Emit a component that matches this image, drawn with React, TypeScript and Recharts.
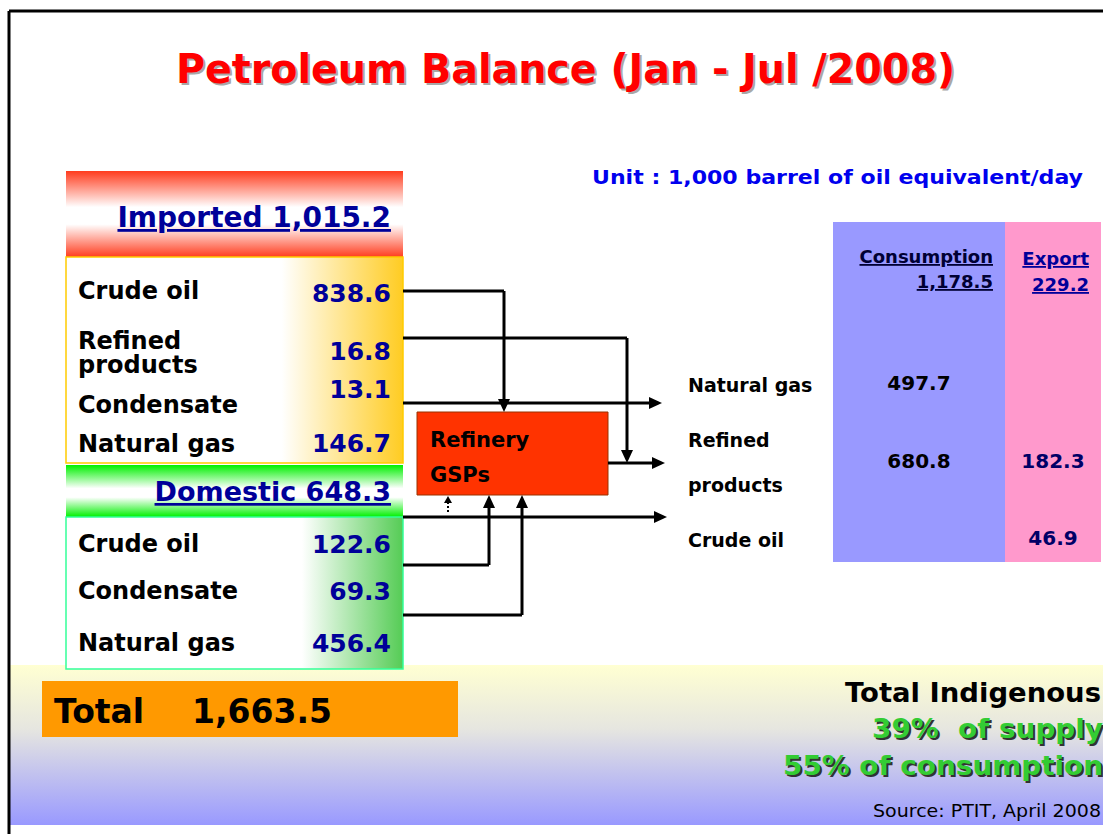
import React from 'react';
import { ComposedChart, XAxis, YAxis, ReferenceArea, ReferenceLine, ReferenceDot } from 'recharts';

const W = 1103;
const H = 834;

// values
const title = 'Petroleum Balance (Jan - Jul /2008)';
const unitNote = 'Unit : 1,000 barrel of oil equivalent/day';

const importedTotal = 1015.2;
const importedItems = ['Crude oil', 'Refined products', 'Condensate', 'Natural gas'];
const importedValues = [838.6, 16.8, 13.1, 146.7];

const domesticTotal = 648.3;
const domesticItems = ['Crude oil', 'Condensate', 'Natural gas'];
const domesticValues = [122.6, 69.3, 456.4];

const supplyTotal = 1663.5;
const refineryLabel = ['Refinery', 'GSPs'];

const outputItems = ['Natural gas', 'Refined products', 'Crude oil'];
const consumptionTotal = 1178.5;
const consumptionValues: (number | null)[] = [497.7, 680.8, null];
const exportTotal = 229.2;
const exportValues: (number | null)[] = [null, 182.3, 46.9];

const indigenousShare = [39, 55];
const indigenousOf = ['supply', 'consumption'];
const sourceNote = 'Source: PTIT, April 2008';

// layout (pixels == axis units)
const impLabelY = [[299], [349, 373], [413], [452]];
const impValueY = [302, 360, 398, 452];
const domRowY = [552, 599, 651];
const outLabelY = [[392], [447, 492], [547]];
const outValueY = [390, 468, 545];

const FONT = '"DejaVu Sans", Verdana, sans-serif';
const NAVY = '#000099';

const fmt = (v: number) =>
  v.toLocaleString('en-US', { minimumFractionDigits: 1, maximumFractionDigits: 1 });

let k = 0;
function txt(x: number, y: number, text: string, opts: any = {}) {
  const { size = 24, color = '#000', anchor = 'start', weight = 'bold', underline = false, len } = opts;
  return (
    <ReferenceDot
      key={'t' + k++}
      x={x}
      y={y}
      r={0}
      ifOverflow="visible"
      shape={(p: any) => (
        <text
          x={p.cx}
          y={p.cy}
          fill={color}
          fontSize={size}
          fontWeight={weight}
          fontFamily={FONT}
          textAnchor={anchor}
          textLength={len}
          lengthAdjust={len ? 'spacingAndGlyphs' : undefined}
          style={{ whiteSpace: 'pre', textDecoration: underline ? 'underline' : 'none' }}
        >
          {text}
        </text>
      )}
    />
  );
}

function arrow(head: boolean, dashed = false) {
  return (p: any) => {
    const { x1, y1, x2, y2 } = p;
    const dx = x2 - x1;
    const dy = y2 - y1;
    const len = Math.sqrt(dx * dx + dy * dy) || 1;
    const ux = dx / len;
    const uy = dy / len;
    const hl = dashed ? 7 : 13;
    const hw = dashed ? 4 : 6;
    const ex = head ? x2 - ux * hl : x2;
    const ey = head ? y2 - uy * hl : y2;
    return (
      <g>
        <line x1={x1} y1={y1} x2={ex} y2={ey} stroke="#000" strokeWidth={dashed ? 2 : 3}
          strokeDasharray={dashed ? '2 2' : undefined} />
        {head && (
          <polygon
            points={`${x2},${y2} ${ex - uy * hw},${ey + ux * hw} ${ex + uy * hw},${ey - ux * hw}`}
            fill="#000"
          />
        )}
      </g>
    );
  };
}

function seg(ax: number, ay: number, bx: number, by: number, head: boolean, dashed = false) {
  return (
    <ReferenceLine
      key={'l' + k++}
      segment={[{ x: ax, y: ay }, { x: bx, y: by }]}
      ifOverflow="visible"
      shape={arrow(head, dashed)}
    />
  );
}

function box(x1: number, y1: number, x2: number, y2: number, fill: string, stroke = 'none', sw = 0) {
  return (
    <ReferenceArea
      key={'b' + k++}
      x1={x1}
      x2={x2}
      y1={y1}
      y2={y2}
      fill={fill}
      fillOpacity={1}
      stroke={stroke}
      strokeWidth={sw}
      ifOverflow="visible"
    />
  );
}

export default function App() {
  k = 0;
  return (
    <div style={{ width: W, height: H, background: '#fff' }}>
      <style>{'body{margin:0}'}</style>
      <ComposedChart width={W} height={H} margin={{ top: 0, right: 0, bottom: 0, left: 0 }} data={[]}>
        <defs>
          <linearGradient id="impHead" x1="0" y1="0" x2="0" y2="1">
            <stop offset="0" stopColor="#ff3c1e" />
            <stop offset="0.42" stopColor="#ffffff" />
            <stop offset="0.62" stopColor="#ffffff" />
            <stop offset="1" stopColor="#ff3c1e" />
          </linearGradient>
          <linearGradient id="impBody" x1="0" y1="0" x2="1" y2="0">
            <stop offset="0" stopColor="#ffffff" />
            <stop offset="0.64" stopColor="#ffffff" />
            <stop offset="1" stopColor="#ffcc22" />
          </linearGradient>
          <linearGradient id="domHead" x1="0" y1="0" x2="0" y2="1">
            <stop offset="0" stopColor="#00f000" />
            <stop offset="0.45" stopColor="#ffffff" />
            <stop offset="0.62" stopColor="#ffffff" />
            <stop offset="1" stopColor="#00f000" />
          </linearGradient>
          <linearGradient id="domBody" x1="0" y1="0" x2="1" y2="0">
            <stop offset="0" stopColor="#ffffff" />
            <stop offset="0.7" stopColor="#ffffff" />
            <stop offset="1" stopColor="#55cc55" />
          </linearGradient>
          <linearGradient id="band" x1="0" y1="0" x2="0" y2="1">
            <stop offset="0" stopColor="#ffffd2" />
            <stop offset="0.4" stopColor="#e6e6e0" />
            <stop offset="1" stopColor="#9999ff" />
          </linearGradient>
        </defs>
        <XAxis type="number" dataKey="x" domain={[0, W]} hide allowDataOverflow height={0} />
        <YAxis type="number" dataKey="y" domain={[0, H]} reversed hide allowDataOverflow width={0} />

        {/* frame + bottom band */}
        {box(10, 665, W, 825, 'url(#band)')}
        {seg(9, 11, W, 11, false)}
        {seg(9, 11, 9, H, false)}

        {/* supply side */}
        {box(66, 171, 403, 257, 'url(#impHead)')}
        {box(66, 257, 403, 463, 'url(#impBody)', '#ffcc00', 1.5)}
        {box(66, 465, 403, 517, 'url(#domHead)')}
        {box(66, 517, 403, 669, 'url(#domBody)', '#33ff99', 1.5)}
        {box(42, 681, 458, 737, '#ff9900')}

        {/* refinery */}
        {box(417, 412, 608, 495, '#ff3300', '#993300', 1)}

        {/* demand side */}
        {box(833, 222, 1005, 562, '#9999ff')}
        {box(1005, 222, 1101, 562, '#ff99cc')}

        {/* flows */}
        {seg(403, 291, 504, 291, false)}
        {seg(504, 291, 504, 412, true)}
        {seg(403, 338, 627, 338, false)}
        {seg(627, 338, 627, 463, true)}
        {seg(403, 403, 662, 403, true)}
        {seg(608, 463, 665, 463, true)}
        {seg(403, 517, 667, 517, true)}
        {seg(403, 565, 489, 565, false)}
        {seg(489, 565, 489, 495, true)}
        {seg(403, 615, 522, 615, false)}
        {seg(522, 615, 522, 495, true)}
        {seg(448, 512, 448, 496, true, true)}

        {/* texts */}
        {txt(178, 85, title, { size: 40, color: '#a8a8a8', len: 779 })}
        {txt(176, 83, title, { size: 40, color: '#ff0000', len: 779 })}
        {txt(592, 184, unitNote, { size: 20, color: '#0000ee', len: 491 })}

        {txt(391, 227, 'Imported ' + fmt(importedTotal), { size: 28, color: NAVY, anchor: 'end', underline: true })}
        {importedItems.map((name, i) => {
          const parts = impLabelY[i].length > 1 ? name.split(' ') : [name];
          return parts.map((p, j) => txt(78, impLabelY[i][j], p, { size: 24 }));
        })}
        {importedValues.map((v, i) => txt(391, impValueY[i], fmt(v), { size: 25, color: NAVY, anchor: 'end' }))}

        {txt(391, 501, 'Domestic ' + fmt(domesticTotal), { size: 27, color: NAVY, anchor: 'end', underline: true })}
        {domesticItems.map((name, i) => txt(78, domRowY[i], name, { size: 24 }))}
        {domesticValues.map((v, i) => txt(391, domRowY[i] + 1, fmt(v), { size: 25, color: NAVY, anchor: 'end' }))}

        {txt(430, 447, refineryLabel[0], { size: 21 })}
        {txt(430, 482, refineryLabel[1], { size: 21 })}

        {outputItems.map((name, i) => {
          const parts = outLabelY[i].length > 1 ? name.split(' ') : [name];
          return parts.map((p, j) => txt(688, outLabelY[i][j], p, { size: 19 }));
        })}
        {txt(993, 263, 'Consumption', { size: 18, color: '#000033', anchor: 'end', underline: true })}
        {txt(993, 288, fmt(consumptionTotal), { size: 18, color: '#000033', anchor: 'end', underline: true })}
        {txt(1089, 265, 'Export', { size: 18, color: NAVY, anchor: 'end', underline: true })}
        {txt(1089, 291, fmt(exportTotal), { size: 18, color: NAVY, anchor: 'end', underline: true })}
        {consumptionValues.map((v, i) =>
          v == null ? null : txt(919, outValueY[i], fmt(v), { size: 20, anchor: 'middle' })
        )}
        {exportValues.map((v, i) =>
          v == null ? null : txt(1053, outValueY[i], fmt(v), { size: 20, color: '#000066', anchor: 'middle' })
        )}

        {txt(54, 723, 'Total', { size: 33 })}
        {txt(192, 723, fmt(supplyTotal), { size: 33 })}

        {txt(845, 702, 'Total Indigenous', { size: 26, len: 256 })}
        {indigenousShare.map((s, i) => {
          const label = i === 0 ? `${s}%  of ${indigenousOf[i]}` : `${s}% of ${indigenousOf[i]}`;
          const y = 738 + i * 37;
          const x0 = i === 0 ? 872 : 783;
          const len = 1103 - x0;
          return [
            txt(x0 + 2, y + 2, label, { size: 27, color: '#333333', len }),
            txt(x0, y, label, { size: 27, color: '#33cc33', len }),
          ];
        })}
        {txt(873, 817, sourceNote, { size: 17, weight: 'normal', len: 228 })}
      </ComposedChart>
    </div>
  );
}
